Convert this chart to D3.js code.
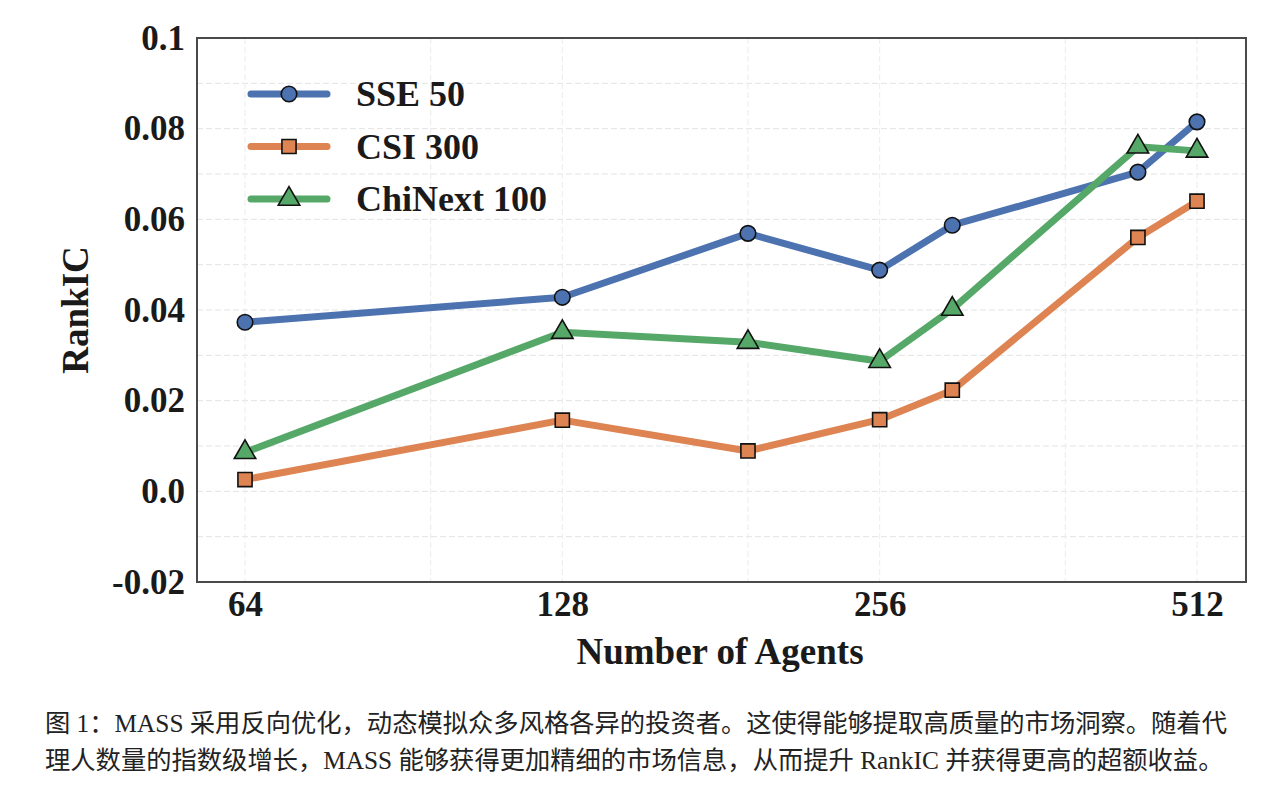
<!DOCTYPE html>
<html>
<head>
<meta charset="utf-8">
<script src="https://cdn.jsdelivr.net/npm/d3@7"></script>
<style>
  body { margin: 0; background: #fff; }
  svg { display: block; }
</style>
</head>
<body>
<svg id="chart" width="1286" height="785"></svg>
<script>
// data
const agents = [64, 128, 192, 256, 300, 450, 512]
const sse50 = [0.0373, 0.0428, 0.0569, 0.0488, 0.0587, 0.0704, 0.0815]
const csi300 = [0.0026, 0.0157, 0.0089, 0.0158, 0.0223, 0.0560, 0.0640]
const chinext100 = [0.0086, 0.0351, 0.0329, 0.0287, 0.0402, 0.0760, 0.0751]
const seriesNames = ['SSE 50', 'CSI 300', 'ChiNext 100']
const xTicks = [64, 128, 256, 512]
const xGrid = [64, 96, 128, 192, 256, 384, 512]
const yTicks = [-0.02, 0, 0.02, 0.04, 0.06, 0.08, 0.1]
const yTickLabels = ['-0.02', '0.0', '0.02', '0.04', '0.06', '0.08', '0.1']
const yGrid = d3.range(-0.01, 0.1, 0.01)
const captionLines = [
  '图 1：MASS 采用反向优化，动态模拟众多风格各异的投资者。这使得能够提取高质量的市场洞察。随着代',
  '理人数量的指数级增长，MASS 能够获得更加精细的市场信息，从而提升 RankIC 并获得更高的超额收益。'
]

const colors = ['#4c72b0', '#dd8452', '#55a868']
const shapes = [d3.symbolCircle, d3.symbolSquare, d3.symbolTriangle]
const shapeSizes = [190, 200, 200]
const serif = '"Liberation Serif", "Times New Roman", serif'

const svg = d3.select('#chart')

// plot frame
const frame = { left: 197, right: 1246, top: 38, bottom: 582 }

x = d3.scaleLog().base(2).domain([64, 512]).range([245, 1197])
y = d3.scaleLinear().domain([-0.02, 0.1]).range([frame.bottom, frame.top])

// grid
const grid = svg.append('g')
grid.selectAll('.hgrid')
  .data(yGrid)
  .enter()
  .append('line')
  .attr('x1', frame.left).attr('x2', frame.right)
  .attr('y1', d => y(d)).attr('y2', d => y(d))
  .attr('stroke', '#e3e3e3')
  .attr('stroke-width', 1)
  .attr('stroke-dasharray', '6,3')

grid.selectAll('.vgrid')
  .data(xGrid)
  .enter()
  .append('line')
  .attr('x1', d => x(d)).attr('x2', d => x(d))
  .attr('y1', frame.top).attr('y2', frame.bottom)
  .attr('stroke', '#ececec')
  .attr('stroke-width', 1)
  .attr('stroke-dasharray', '6,3')

// axes (labels only, frame drawn separately)
const yAxis = svg.append('g')
  .attr('transform', `translate(${frame.left}, 0)`)
  .call(d3.axisLeft(y).tickValues(yTicks).tickSize(0).tickPadding(12)
    .tickFormat((d, i) => yTickLabels[i]))
yAxis.select('.domain').remove()
yAxis.selectAll('text')
  .style('font-family', serif)
  .style('font-weight', 'bold')
  .style('font-size', '35px')
  .attr('fill', '#1a1a1a')

const xAxis = svg.append('g')
  .attr('transform', `translate(0, ${frame.bottom})`)
  .call(d3.axisBottom(x).tickValues(xTicks).tickSize(0).tickPadding(9)
    .tickFormat(d3.format('d')))
xAxis.select('.domain').remove()
xAxis.selectAll('text')
  .style('font-family', serif)
  .style('font-weight', 'bold')
  .style('font-size', '35px')
  .attr('fill', '#1a1a1a')

svg.append('text')
  .attr('transform', 'translate(88, 310) rotate(-90)')
  .attr('text-anchor', 'middle')
  .style('font-family', serif)
  .style('font-weight', 'bold')
  .style('font-size', '37px')
  .attr('fill', '#1a1a1a')
  .text('RankIC')

svg.append('text')
  .attr('x', 720)
  .attr('y', 664)
  .attr('text-anchor', 'middle')
  .style('font-family', serif)
  .style('font-weight', 'bold')
  .style('font-size', '37px')
  .attr('fill', '#1a1a1a')
  .text('Number of Agents')

// lines and markers
const allSeries = [sse50, csi300, chinext100]
const line = d3.line()
  .x((d, i) => x(agents[i]))
  .y(d => y(d))

allSeries.forEach((values, s) => {
  svg.append('path')
    .datum(values)
    .attr('fill', 'none')
    .attr('stroke', colors[s])
    .attr('stroke-width', 7)
    .attr('stroke-linejoin', 'round')
    .attr('stroke-linecap', 'round')
    .attr('d', line)

  svg.append('g')
    .selectAll('path')
    .data(values)
    .enter()
    .append('path')
    .attr('transform', (d, i) => `translate(${x(agents[i])}, ${y(d)})`)
    .attr('d', d3.symbol().type(shapes[s]).size(shapeSizes[s]))
    .attr('fill', colors[s])
    .attr('stroke', '#111')
    .attr('stroke-width', 1.6)
})

// frame on top
svg.append('rect')
  .attr('x', frame.left)
  .attr('y', frame.top)
  .attr('width', frame.right - frame.left)
  .attr('height', frame.bottom - frame.top)
  .attr('fill', 'none')
  .attr('stroke', '#4a4a4a')
  .attr('stroke-width', 2)

// legend
const legend = svg.append('g')
seriesNames.forEach((name, s) => {
  const ly = 94 + s * 52.5
  legend.append('line')
    .attr('x1', 251).attr('x2', 327)
    .attr('y1', ly).attr('y2', ly)
    .attr('stroke', colors[s])
    .attr('stroke-width', 7)
    .attr('stroke-linecap', 'round')
  legend.append('path')
    .attr('transform', `translate(289, ${ly})`)
    .attr('d', d3.symbol().type(shapes[s]).size(shapeSizes[s]))
    .attr('fill', colors[s])
    .attr('stroke', '#111')
    .attr('stroke-width', 1.6)
  legend.append('text')
    .attr('x', 356)
    .attr('y', ly + 12)
    .style('font-family', serif)
    .style('font-weight', 'bold')
    .style('font-size', '36px')
    .attr('fill', '#1a1a1a')
    .text(name)
})

// caption
svg.append('g')
  .selectAll('text')
  .data(captionLines)
  .enter()
  .append('text')
  .attr('x', 45)
  .attr('y', (d, i) => 732 + i * 37)
  .style('font-family', '"Liberation Serif", "Noto Sans CJK SC", serif')
  .style('font-size', '25.3px')
  .attr('fill', '#222')
  .text(d => d)
</script>
</body>
</html>
